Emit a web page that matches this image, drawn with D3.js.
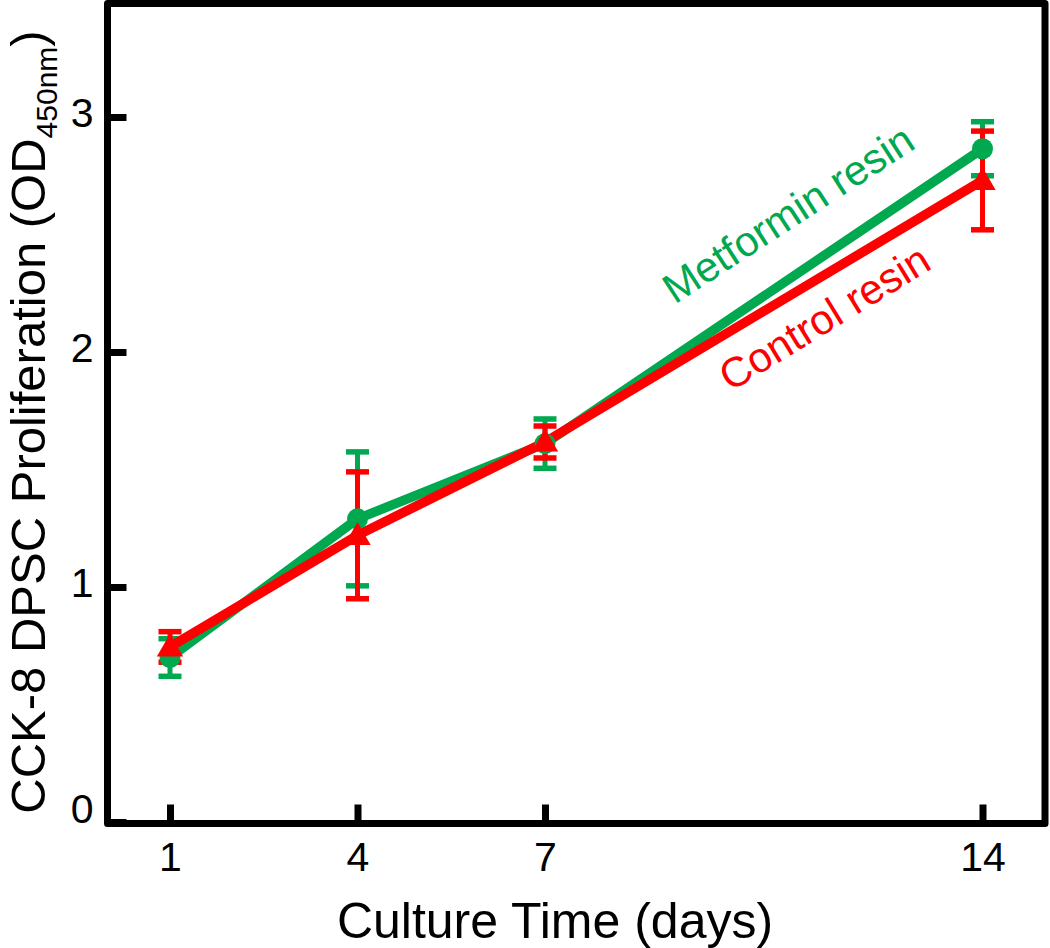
<!DOCTYPE html>
<html>
<head>
<meta charset="utf-8">
<script src="https://cdn.jsdelivr.net/npm/d3@7"></script>
<style>
  html, body { margin: 0; padding: 0; background: #fff; }
  svg { display: block; font-family: "Liberation Sans", Arial, Helvetica, sans-serif; }
</style>
</head>
<body>
<svg id="chart" width="1050" height="948"></svg>
<script>
// ---- data ----
const days = [1, 4, 7, 14];
const metforminMean = [0.70, 1.29, 1.61, 2.865];
const metforminErr  = [0.08, 0.285, 0.105, 0.115];
const controlMean   = [0.745, 1.22, 1.617, 2.73];
const controlErr    = [0.065, 0.27, 0.068, 0.21];
const xTicks = [1, 4, 7, 14];
const yTicks = [0, 1, 2, 3];
const seriesNames = ["Metformin resin", "Control resin"];

// ---- styles ----
const GREEN = "#00A84F";
const RED = "#FF0000";

const svg = d3.select("#chart");
const x = d3.scaleLinear().domain([0, 15]).range([107.5, 1045]);
const y = d3.scaleLinear().domain([0, 3.5]).range([822, -0.5]);

const series = [
  { name: seriesNames[0], mean: metforminMean, err: metforminErr, color: GREEN, marker: "circle" },
  { name: seriesNames[1], mean: controlMean, err: controlErr, color: RED, marker: "triangle" }
];

// error bars (green first, red on top)
series.forEach(s => {
  const g = svg.append("g").attr("stroke", s.color).attr("stroke-width", 5).attr("fill", "none");
  days.forEach((d, i) => {
    const cx = x(d), top = y(s.mean[i] + s.err[i]), bot = y(s.mean[i] - s.err[i]);
    g.append("line").attr("x1", cx).attr("x2", cx).attr("y1", top).attr("y2", bot);
    g.append("line").attr("x1", cx - 11.5).attr("x2", cx + 11.5).attr("y1", top).attr("y2", top).attr("stroke-width", 5.5);
    g.append("line").attr("x1", cx - 11.5).attr("x2", cx + 11.5).attr("y1", bot).attr("y2", bot).attr("stroke-width", 5.5);
  });
});

// lines
const line = d3.line().x((d, i) => x(days[i])).y(d => y(d));
series.forEach(s => {
  svg.append("path").datum(s.mean).attr("d", line)
    .attr("fill", "none").attr("stroke", s.color).attr("stroke-width", 9.5)
    .attr("stroke-linejoin", "round");
});

// markers
series.forEach(s => {
  const sym = s.marker === "circle" ? d3.symbolCircle : d3.symbolTriangle;
  const size = s.marker === "circle" ? Math.PI * 10.5 * 10.5 : 300;
  svg.append("g").selectAll("path").data(s.mean).join("path")
    .attr("d", d3.symbol().type(sym).size(size))
    .attr("transform", (d, i) => `translate(${x(days[i])},${y(d) + (s.marker === "triangle" ? 2 : 0)})`)
    .attr("fill", s.color);
});

// frame
const frameTop = 3.5;
svg.append("rect")
  .attr("x", x(0)).attr("y", frameTop)
  .attr("width", x(15) - x(0)).attr("height", y(0) + 1.5 - frameTop)
  .attr("fill", "none").attr("stroke", "#000").attr("stroke-width", 7)
  .attr("stroke-linejoin", "round");

// axes
const yAxis = svg.append("g").attr("transform", `translate(${x(0)},0)`)
  .call(d3.axisLeft(y).tickValues(yTicks).tickFormat(d3.format("d")).tickSize(-19).tickPadding(14));
yAxis.select(".domain").remove();
yAxis.selectAll(".tick line").attr("stroke", "#000").attr("stroke-width", 7);
yAxis.selectAll(".tick text").attr("font-size", 41).attr("fill", "#000")
  .attr("font-family", "Liberation Sans, Arial, sans-serif")
  .attr("dy", d => d === 0 ? "-0.0em" : "0.22em");

const xAxis = svg.append("g").attr("transform", `translate(0,${y(0) + 1.5})`)
  .call(d3.axisBottom(x).tickValues(xTicks).tickFormat(d3.format("d")).tickSize(-19).tickPadding(18));
xAxis.select(".domain").remove();
xAxis.selectAll(".tick line").attr("stroke", "#000").attr("stroke-width", 7);
xAxis.selectAll(".tick text").attr("font-size", 41).attr("fill", "#000")
  .attr("font-family", "Liberation Sans, Arial, sans-serif");

// axis titles
svg.append("text").attr("x", 555).attr("y", 938).attr("text-anchor", "middle")
  .attr("font-size", 50).attr("fill", "#000").text("Culture Time (days)");

const yt = svg.append("text").attr("transform", "translate(45,422) rotate(-90)")
  .attr("text-anchor", "middle").attr("font-size", 49).attr("fill", "#000");
yt.append("tspan").text("CCK-8 DPSC Proliferation (OD");
yt.append("tspan").attr("font-size", 30).attr("dy", 12).text("450nm");
yt.append("tspan").attr("dy", -12).text(")");

// series labels
svg.append("text").attr("transform", "translate(796,226) rotate(-33)")
  .attr("text-anchor", "middle").attr("font-size", 42).attr("fill", GREEN).text(seriesNames[0]);
svg.append("text").attr("transform", "translate(832,330) rotate(-31.5)")
  .attr("text-anchor", "middle").attr("font-size", 42).attr("fill", RED).text(seriesNames[1]);
</script>
</body>
</html>
